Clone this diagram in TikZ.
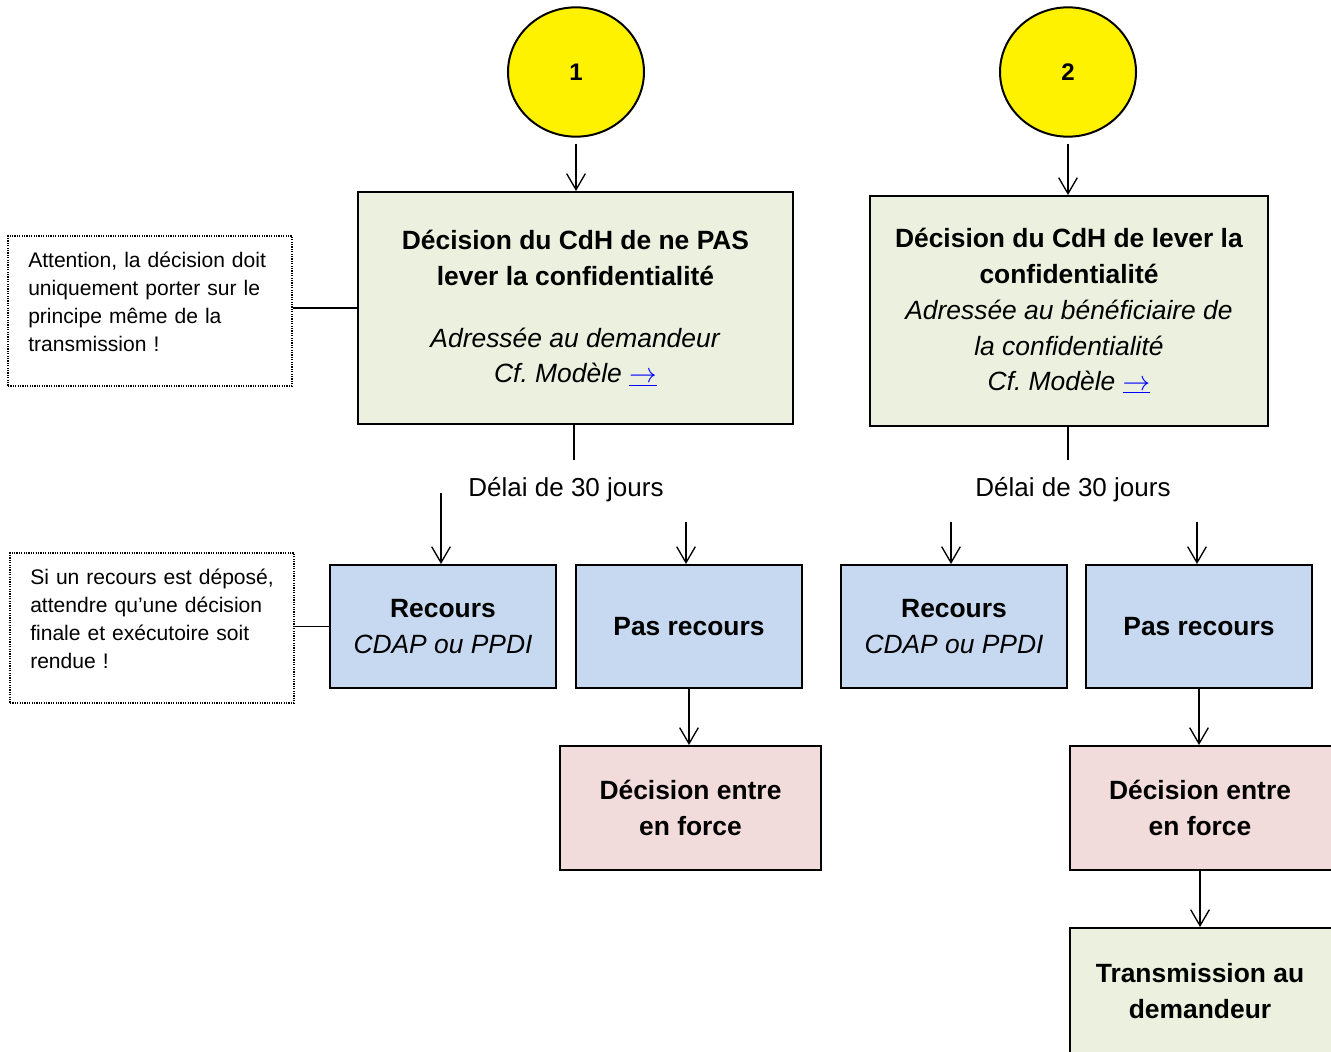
\documentclass[tikz,border=0pt]{standalone}
\usepackage{fontspec}
\setmainfont{Liberation Sans}
\usetikzlibrary{arrows.meta,shapes.geometric}
\definecolor{boxgreen}{HTML}{EBF1DE}
\definecolor{boxblue}{HTML}{C6D9F1}
\definecolor{boxpink}{HTML}{F2DCDB}
\definecolor{linkblue}{HTML}{0000FF}
\newcommand\modlink{{\color{linkblue}\underline{\upshape\ensuremath{\rightarrow}}}}
\begin{document}
\begin{tikzpicture}[x=0.75pt,y=-0.75pt,
  box/.style={draw=black, line width=1.5pt, align=center, inner sep=0pt, font=\fontsize{19.8}{26.8}\selectfont},
  greenbox/.style={box, fill=boxgreen},
  bluebox/.style={box, fill=boxblue, minimum width=169.5pt, minimum height=92.25pt},
  pinkbox/.style={box, fill=boxpink},
  num/.style={ellipse, draw=black, line width=1.5pt, fill=yellow, minimum width=102pt, minimum height=97pt, inner sep=0pt, font=\fontsize{18}{22}\selectfont\bfseries},
  note/.style={draw=black, line width=0.9pt, dash pattern=on 0.9pt off 0.9pt, minimum width=213pt, minimum height=112.5pt, inner sep=0pt},
  notetext/.style={align=left, text width=200pt, inner sep=0pt, anchor=base west, font=\fontsize{15.8}{21.2}\selectfont},
  conn/.style={line width=1pt},
  arr/.style={conn, -{Straight Barb[length=12pt,width=14pt]}},
  delay/.style={font=\fontsize{19.5}{24}\selectfont, inner sep=0pt, anchor=base}
]
\useasboundingbox (0,0) rectangle (1331,1052);

% circles
\node[num] (c1) at (576,72) {1};
\node[num] (c2) at (1068,72) {2};

% decision boxes
\node[greenbox, minimum width=326.25pt, minimum height=174pt] (b1) at (575.5,308)
  {\textbf{Décision du CdH de ne PAS}\\\textbf{lever la confidentialité}\\[19.5pt]
   \textit{Adressée au demandeur}\\\textit{Cf.\ Modèle} \modlink};
\node[greenbox, minimum width=298.5pt, minimum height=172.5pt] (b2) at (1069,311)
  {\textbf{Décision du CdH de lever la}\\\textbf{confidentialité}\\
   \textit{Adressée au bénéficiaire de}\\\textit{la confidentialité}\\\textit{Cf.\ Modèle} \modlink};

% notes
\node[note] (n1) at (150,311) {};
\node[notetext] (n1t) at (28,267) {Attention, la décision doit\\uniquement porter sur le\\principe même de la\\transmission !};
\node[note] (n2) at (152,628) {};
\node[notetext] (n2t) at (30,584) {Si un recours est déposé,\\attendre qu’une décision\\finale et exécutoire soit\\rendue !};

% delay labels
\node[delay] (d1) at (566,496) {Délai de 30 jours};
\node[delay] (d2) at (1073,496) {Délai de 30 jours};

% recours boxes
\node[bluebox] (r1) at (443,626.5) {\textbf{Recours}\\\textit{CDAP ou PPDI}};
\node[bluebox] (p1) at (689,626.5) {\textbf{Pas recours}};
\node[bluebox] (r2) at (954,626.5) {\textbf{Recours}\\\textit{CDAP ou PPDI}};
\node[bluebox] (p2) at (1199,626.5) {\textbf{Pas recours}};

% outcome boxes
\node[pinkbox, minimum width=195.75pt, minimum height=93pt] (f1) at (690.5,808) {\textbf{Décision entre}\\\textbf{en force}};
\node[pinkbox, minimum width=204pt, minimum height=93pt] (f2) at (1206,808) {\hspace*{-9pt}\textbf{Décision entre}\\\hspace*{-9pt}\textbf{en force}};
\node[greenbox, minimum width=204pt, minimum height=94.5pt] (t2) at (1206,991) {\hspace*{-9pt}\textbf{Transmission au}\\\hspace*{-9pt}\textbf{demandeur}};

% free ends
\coordinate (e1) at (574,460);
\coordinate (e2) at (1068,460);
\coordinate (s1) at (441,493);
\coordinate (s2) at (686,522);
\coordinate (s3) at (951,522);
\coordinate (s4) at (1197,522);
\coordinate (s5) at (1200,872);

% connectors
\draw[arr, shorten <=4.5pt] (c1.south) -- (c1.south |- b1.north);
\draw[arr, shorten <=4.5pt] (c2.south) -- (c2.south |- b2.north);
\draw[conn] (b1.west) -- (b1.west -| n1.east);
\draw[conn] (r1.west) -- (r1.west -| n2.east);
\draw[conn] (e1 |- b1.south) -- (e1);
\draw[conn] (e2 |- b2.south) -- (e2);
\draw[arr] (s1) -- (s1 |- r1.north);
\draw[arr] (s2) -- (s2 |- p1.north);
\draw[arr] (s3) -- (s3 |- r2.north);
\draw[arr] (s4) -- (s4 |- p2.north);
\draw[arr] (p1.south) -- (p1.south |- f1.north);
\draw[arr] (p2.south) -- (p2.south |- f2.north);
\draw[arr] (s5 |- f2.south) -- (s5 |- t2.north);
\end{tikzpicture}
\end{document}
